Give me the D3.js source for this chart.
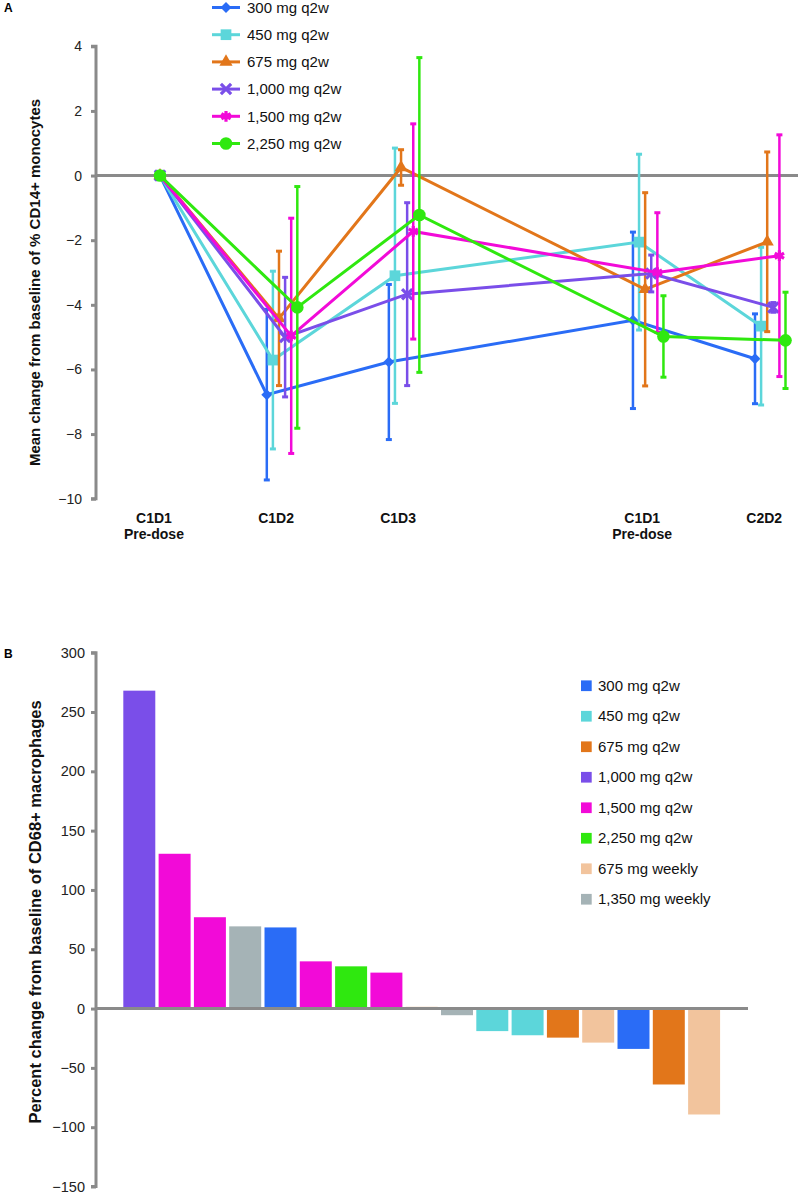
<!DOCTYPE html>
<html><head><meta charset="utf-8">
<script src="https://cdn.jsdelivr.net/npm/d3@7"></script>
<style>
html,body{margin:0;padding:0;background:#fff;}
svg{display:block;font-family:"Liberation Sans",Arial,sans-serif;}
</style></head>
<body>
<svg id="chart" width="798" height="1194"></svg>
<script>
// ---------- Panel A data ----------
const timepoints = [0, 1, 2, 4, 5];
const timeLabels = [["C1D1", "Pre-dose"], ["C1D2"], ["C1D3"], ["C1D1", "Pre-dose"], ["C2D2"]];
const seriesNames = ["300 mg q2w", "450 mg q2w", "675 mg q2w", "1,000 mg q2w", "1,500 mg q2w", "2,250 mg q2w"];
const seriesColors = ["#2a6cf6", "#5cd6da", "#e2761a", "#7a4ee9", "#f20ad8", "#2fe80f"];
const mean300 = [0, -6.78, -5.77, -4.48, -5.67];
const sd300 = [0, 2.64, 2.40, 2.73, 1.39];
const mean450 = [0, -5.71, -3.10, -2.06, -4.66];
const sd450 = [0, 2.75, 3.95, 2.72, 2.44];
const mean675 = [0, -4.42, 0.25, -3.52, -2.05];
const sd675 = [0, 2.08, 0.55, 2.99, 2.78];
const mean1000 = [0, -5.00, -3.67, -3.03, -4.08];
const sd1000 = [0, 1.85, 2.83, 0.57, 0.15];
const mean1500 = [0, -4.96, -1.73, -3.00, -2.48];
const sd1500 = [0, 3.64, 3.33, 1.85, 3.74];
const mean2250 = [0, -4.08, -1.22, -4.98, -5.10];
const sd2250 = [0, 3.74, 4.87, 1.26, 1.49];
const yTicksA = [-10, -8, -6, -4, -2, 0, 2, 4];

// ---------- Panel B data ----------
const barGroups = ["1,000 mg q2w", "1,500 mg q2w", "1,500 mg q2w", "1,350 mg weekly", "300 mg q2w", "1,500 mg q2w",
  "2,250 mg q2w", "1,500 mg q2w", "675 mg weekly", "1,350 mg weekly", "450 mg q2w", "450 mg q2w",
  "675 mg q2w", "675 mg weekly", "300 mg q2w", "675 mg q2w", "675 mg weekly"];
const barValues = [268, 130.5, 77, 69.3, 68.4, 39.8, 35.6, 30.3, 1.5, -5.6, -19, -22.5, -24.5, -28.7, -34, -64, -89.3];
const legendB = ["300 mg q2w", "450 mg q2w", "675 mg q2w", "1,000 mg q2w", "1,500 mg q2w", "2,250 mg q2w", "675 mg weekly", "1,350 mg weekly"];
const legendBColors = ["#2a6cf6", "#5cd6da", "#e2761a", "#7a4ee9", "#f20ad8", "#2fe80f", "#f2c49d", "#a5b3b6"];
const yTicksB = [-150, -100, -50, 0, 50, 100, 150, 200, 250, 300];

const svg = d3.select("#chart");
const axisGray = "#8a8a8a";
const fmt = d => d < 0 ? "\u2212" + Math.abs(d) : String(d);

// ================= PANEL A =================
const means = [mean300, mean450, mean675, mean1000, mean1500, mean2250];
const sds = [sd300, sd450, sd675, sd1000, sd1500, sd2250];
const x = d3.scaleLinear().domain([0, 5]).range([160, 770.25]);
const y = d3.scaleLinear().domain([-10, 4]).range([498.7, 46.3]);
const jit = d3.scaleLinear().domain([0, 5]).range([-15.25, 15.25]);

const gA = svg.append("g");
svg.append("text").attr("x", 4).attr("y", 12).attr("font-size", 12).attr("font-weight", "bold").text("A");

// y axis
const axA = gA.append("g").attr("transform", "translate(96,0)")
  .call(d3.axisLeft(y).tickValues(yTicksA).tickFormat(fmt).tickSize(5).tickPadding(9));
axA.select(".domain").attr("stroke", axisGray).attr("stroke-width", 3).attr("d", `M-5,${y(4)}H0V${y(-10)}H-5`);
axA.selectAll(".tick line").attr("stroke", axisGray).attr("stroke-width", 3);
axA.selectAll(".tick text").attr("font-size", 14).attr("fill", "#222").attr("font-family", "Liberation Sans, Arial, sans-serif");
// zero line
gA.append("line").attr("x1", 96).attr("x2", 798).attr("y1", y(0)).attr("y2", y(0))
  .attr("stroke", axisGray).attr("stroke-width", 3);

// y title
gA.append("text").attr("transform", `translate(40,${(y(4) + y(-10)) / 2 + 10}) rotate(-90)`)
  .attr("text-anchor", "middle").attr("font-size", 15).attr("font-weight", "bold").attr("fill", "#111")
  .text("Mean change from baseline of % CD14+ monocytes");

// x labels
timepoints.forEach((t, i) => {
  const tx = gA.append("text").attr("x", x(t) - 6).attr("y", 523).attr("text-anchor", "middle")
    .attr("font-size", 14).attr("font-weight", "bold").attr("fill", "#111");
  timeLabels[i].forEach((l, k) => tx.append("tspan").attr("x", x(t) - 6).attr("dy", k === 0 ? 0 : 16).text(l));
});

const symbols = [
  {type: d3.symbolSquare, size: 60, rot: 45, fill: true},
  {type: d3.symbolSquare, size: 115, rot: 0, fill: true},
  {type: d3.symbolTriangle, size: 75, rot: 0, fill: true},
  {type: d3.symbolTimes, size: 70, rot: 0, fill: false},
  {type: d3.symbolAsterisk, size: 80, rot: 0, fill: false},
  {type: d3.symbolCircle, size: 125, rot: 0, fill: true}
];
function drawSymbol(g, s, color, cx, cy) {
  const p = g.append("path").attr("d", d3.symbol().type(s.type).size(s.size)())
    .attr("transform", `translate(${cx},${cy}) rotate(${s.rot})`);
  if (s.fill) p.attr("fill", color);
  else p.attr("fill", "none").attr("stroke", color).attr("stroke-width", 3.2);
}

means.forEach((m, i) => {
  const col = seriesColors[i];
  const g = gA.append("g");
  const px = t => t === 0 ? x(t) : x(t) + jit(i);
  // error bars
  timepoints.forEach((t, k) => {
    if (sds[i][k] <= 0) return;
    const lo = y(m[k] - sds[i][k]), hi = y(m[k] + sds[i][k]);
    g.append("line").attr("x1", px(t)).attr("x2", px(t)).attr("y1", lo).attr("y2", hi)
      .attr("stroke", col).attr("stroke-width", 2.5);
    [lo, hi].forEach(yy => g.append("line").attr("x1", px(t) - 3).attr("x2", px(t) + 3)
      .attr("y1", yy).attr("y2", yy).attr("stroke", col).attr("stroke-width", 3));
  });
  // line
  g.append("path").datum(timepoints.map((t, k) => [px(t), y(m[k])]))
    .attr("d", d3.line()).attr("fill", "none").attr("stroke", col).attr("stroke-width", 3);
  // markers
  timepoints.forEach((t, k) => drawSymbol(g, symbols[i], col, px(t), y(m[k])));
});

// legend A
seriesNames.forEach((n, i) => {
  const ly = 7.5 + i * 27.2;
  const g = gA.append("g");
  g.append("line").attr("x1", 212).attr("x2", 240).attr("y1", ly).attr("y2", ly)
    .attr("stroke", seriesColors[i]).attr("stroke-width", 3);
  drawSymbol(g, symbols[i], seriesColors[i], 226, ly);
  g.append("text").attr("x", 247).attr("y", ly).attr("dy", "0.35em").attr("font-size", 15)
    .attr("fill", "#111").text(n);
});

// ================= PANEL B =================
const gB = svg.append("g");
svg.append("text").attr("x", 4).attr("y", 658).attr("font-size", 12).attr("font-weight", "bold").text("B");
const xb = d3.scaleBand().domain(d3.range(barValues.length)).range([121.65, 721.75]).paddingInner(0.094).paddingOuter(0.047);
const yb = d3.scaleLinear().domain([-150, 300]).range([1186.5, 652.7]);
const colorB = d3.scaleOrdinal().domain(legendB).range(legendBColors);

gB.selectAll("rect.bar").data(barValues).enter().append("rect").attr("class", "bar")
  .attr("x", (d, i) => xb(i)).attr("width", xb.bandwidth())
  .attr("y", d => yb(Math.max(0, d))).attr("height", d => Math.abs(yb(d) - yb(0)))
  .attr("fill", (d, i) => colorB(barGroups[i]));

const axB = gB.append("g").attr("transform", "translate(96,0)")
  .call(d3.axisLeft(yb).tickValues(yTicksB).tickFormat(fmt).tickSize(5).tickPadding(6));
axB.select(".domain").attr("stroke", axisGray).attr("stroke-width", 3).attr("d", `M-5,${yb(300)}H0V${yb(-150)}H-5`);
axB.selectAll(".tick line").attr("stroke", axisGray).attr("stroke-width", 3);
axB.selectAll(".tick text").attr("font-size", 14.5).attr("fill", "#222").attr("font-family", "Liberation Sans, Arial, sans-serif");
gB.append("line").attr("x1", 96).attr("x2", 748).attr("y1", yb(0)).attr("y2", yb(0))
  .attr("stroke", axisGray).attr("stroke-width", 3);

gB.append("text").attr("transform", `translate(41,912) rotate(-90)`)
  .attr("text-anchor", "middle").attr("font-size", 16.5).attr("font-weight", "bold").attr("fill", "#111")
  .text("Percent change from baseline of CD68+ macrophages");

legendB.forEach((n, i) => {
  const ly = 685.7 + i * 30.5;
  gB.append("rect").attr("x", 581).attr("y", ly - 5.3).attr("width", 10.7).attr("height", 10.7).attr("fill", legendBColors[i]);
  gB.append("text").attr("x", 598).attr("y", ly).attr("dy", "0.35em").attr("font-size", 15).attr("fill", "#111").text(n);
});
</script>
</body></html>
